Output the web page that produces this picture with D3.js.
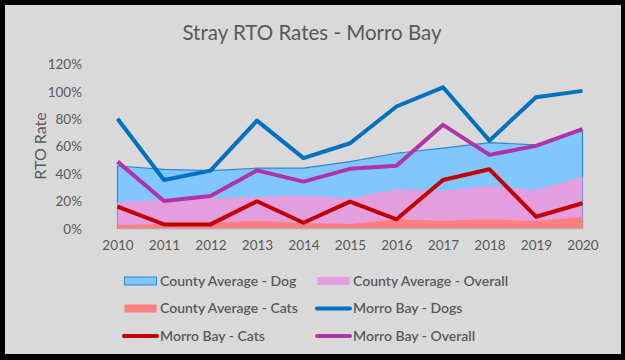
<!DOCTYPE html>
<html><head><meta charset="utf-8">
<script src="https://cdn.jsdelivr.net/npm/d3@7"></script>
<style>
html,body{margin:0;padding:0;background:#000;}
svg{display:block;}
text{font-family:Lato,"Open Sans",sans-serif;fill:#595959;}
</style></head>
<body><svg id="c" width="625" height="360"></svg>
<script>
const years = [2010,2011,2012,2013,2014,2015,2016,2017,2018,2019,2020];
const countyDog = [45.6,43.2,42.2,44,44,48.8,54.9,58.6,62.7,61,71.4];
const countyOverall = [19.6,20.8,22,23.2,24,22,28.6,27.6,31,28.1,37.8];
const countyCats = [2.6,3.3,4.2,5.7,4.2,3.3,6.7,5.7,6.7,5.5,8.6];
const mbDogs = [80,35.4,42.2,78.7,51.3,62.2,89,103,64.1,95.8,100.4];
const mbCats = [15.9,3,3,19.9,4.2,19.6,6.7,35.4,43.2,8.6,18.4];
const mbOverall = [48.8,20.1,23.7,42.4,34.2,43.5,45.7,75.6,53.7,60.3,72.5];
const yTicks = [0,20,40,60,80,100,120];

const svg = d3.select("#c");
svg.append("rect").attr("x",5).attr("y",5).attr("width",616).attr("height",349).attr("fill","#d9d9d9");

const x = d3.scalePoint().domain(years).range([117.5,582.5]);
const y = d3.scaleLinear().domain([0,120]).range([228.5,64]);

svg.append("text").attr("x",312).attr("y",40).attr("text-anchor","middle")
  .style("font-size","20.5px").text("Stray RTO Rates - Morro Bay");

// y axis labels
const ya = svg.append("g").attr("transform","translate(82,0)")
  .call(d3.axisLeft(y).tickValues(yTicks).tickSize(0).tickPadding(0).tickFormat(d=>d+"%"));
ya.select(".domain").remove();
ya.selectAll("text").style("font-size","13.5px").attr("fill","#595959").attr("dy","0.35em");

svg.append("text").attr("transform","translate(40,146) rotate(-90)").attr("text-anchor","middle")
  .attr("dy","0.35em").style("font-size","16px").text("RTO Rate");

const area = arr => d3.area().x((d,i)=>x(years[i])).y0(y(0)).y1(d=>y(d))(arr);
const line = arr => d3.line().x((d,i)=>x(years[i])).y(d=>y(d))(arr);

svg.append("path").attr("d",area(countyDog)).attr("fill","#80c6ff").attr("stroke","#2e86d0").attr("stroke-width",1.2);
svg.append("path").attr("d",area(countyOverall)).attr("fill","#e49edd");
svg.append("path").attr("d",area(countyCats)).attr("fill","#ff8080");

// x axis
const xa = svg.append("g").attr("transform",`translate(0,${y(0)})`)
  .call(d3.axisBottom(x).tickSize(0).tickPadding(12));
xa.select(".domain").attr("stroke","#bfbfbf").attr("stroke-width",1);
xa.selectAll("text").style("font-size","13.5px").attr("fill","#595959");

svg.append("path").attr("d",line(mbDogs)).attr("fill","none").attr("stroke","#0070c0").attr("stroke-width",4).attr("stroke-linejoin","round");
svg.append("path").attr("d",line(mbCats)).attr("fill","none").attr("stroke","#c00000").attr("stroke-width",4).attr("stroke-linejoin","round");
svg.append("path").attr("d",line(mbOverall)).attr("fill","none").attr("stroke","#b232a8").attr("stroke-width",4).attr("stroke-linejoin","round");

// legend
const legend = [
  {name:"County Average - Dog", type:"area", fill:"#80c6ff", stroke:"#2e86d0"},
  {name:"County Average - Overall", type:"area", fill:"#e49edd"},
  {name:"County Average - Cats", type:"area", fill:"#ff8080"},
  {name:"Morro Bay - Dogs", type:"line", stroke:"#0070c0"},
  {name:"Morro Bay - Cats", type:"line", stroke:"#c00000"},
  {name:"Morro Bay - Overall", type:"line", stroke:"#b232a8"}
];
const colX = [124,317], rowY = [281,308.5,336];
legend.forEach((d,i)=>{
  const g = svg.append("g").attr("transform",`translate(${colX[i%2]},${rowY[Math.floor(i/2)]})`);
  if(d.type==="area"){
    g.append("rect").attr("x",0.5).attr("y",-4).attr("width",32).attr("height",8)
      .attr("fill",d.fill).attr("stroke",d.stroke||"none").attr("stroke-width",1);
  } else {
    g.append("line").attr("x1",0).attr("x2",33).attr("y1",0).attr("y2",0)
      .attr("stroke",d.stroke).attr("stroke-width",4).attr("stroke-linecap","round");
  }
  g.append("text").attr("x",36).attr("y",0).attr("dy","0.35em").style("font-size","14px").style("font-weight","600").text(d.name);
});
</script></body></html>
